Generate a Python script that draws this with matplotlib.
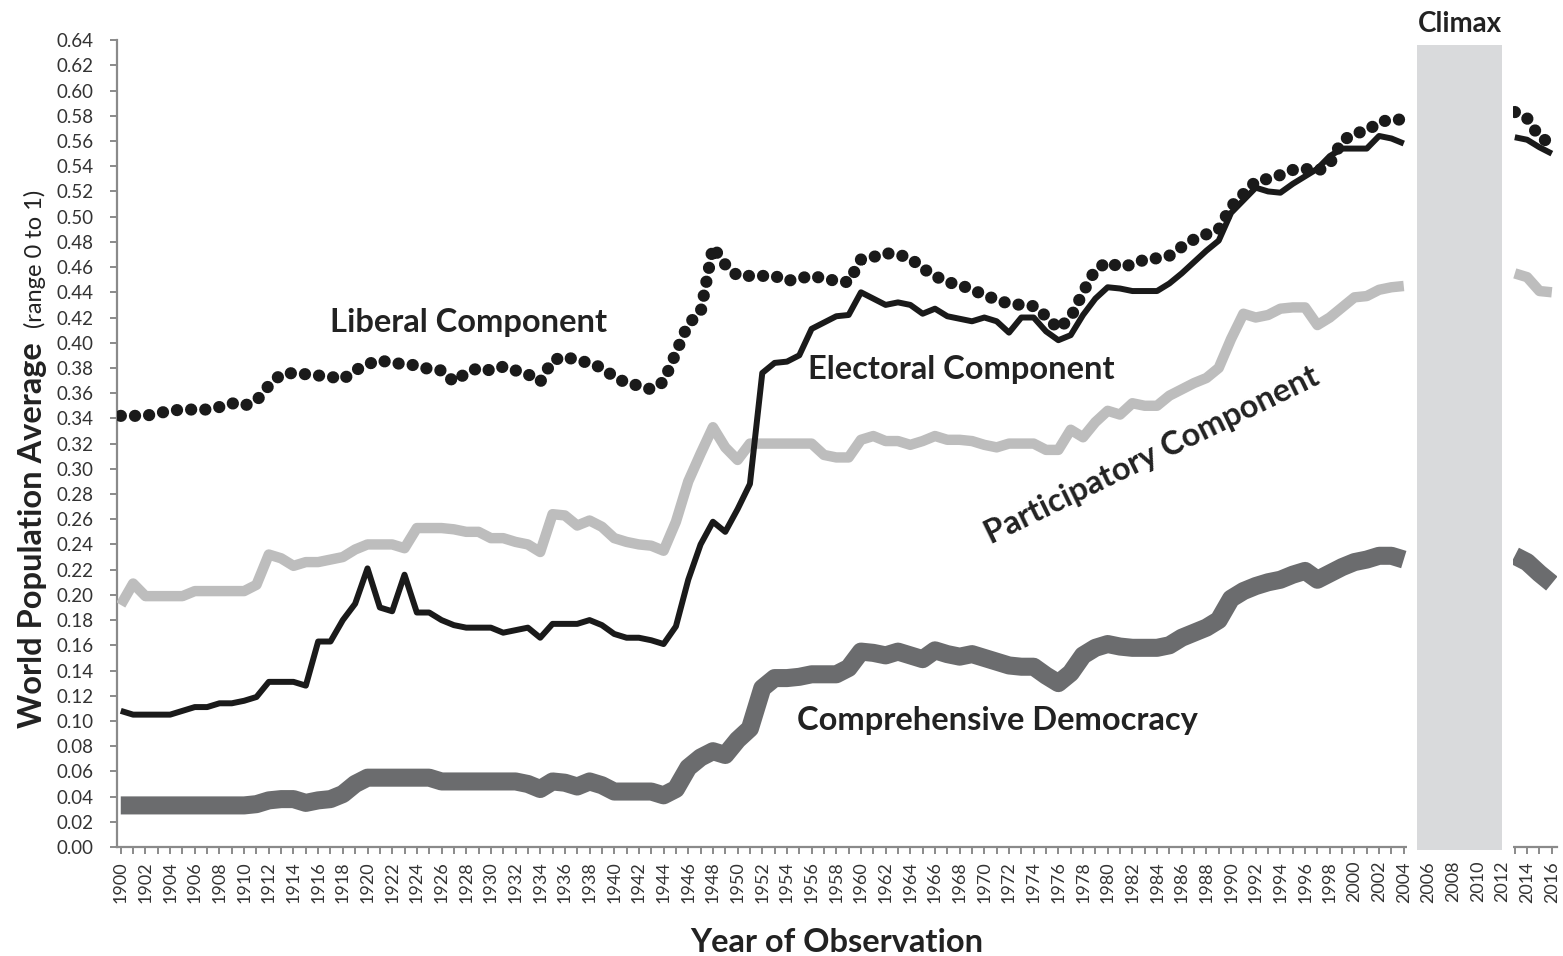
import numpy as np
import matplotlib
matplotlib.use("Agg")
import matplotlib.pyplot as plt
from matplotlib.patches import Rectangle
import matplotlib.transforms as mtransforms

plt.rcParams['font.family'] = ['Lato', 'DejaVu Sans']

# years shown on the chart (2005-2012 hidden behind the "Climax" band)
years = list(range(1900, 2005)) + [2013, 2014, 2015, 2016]

liberal = [
    0.342, 0.342, 0.342, 0.344, 0.346, 0.347, 0.347, 0.347, 0.349, 0.352,
    0.350, 0.354, 0.366, 0.375, 0.376, 0.375, 0.374, 0.373, 0.371, 0.378,
    0.383, 0.386, 0.384, 0.383, 0.382, 0.379, 0.378, 0.369, 0.376, 0.380,
    0.378, 0.381, 0.378, 0.375, 0.369, 0.386, 0.389, 0.386, 0.384, 0.380,
    0.373, 0.368, 0.366, 0.363, 0.369, 0.392, 0.415, 0.424, 0.476, 0.462,
    0.453, 0.453, 0.453, 0.453, 0.449, 0.451, 0.453, 0.451, 0.449, 0.448,
    0.466, 0.468, 0.471, 0.470, 0.467, 0.459, 0.453, 0.448, 0.446, 0.442,
    0.438, 0.434, 0.431, 0.430, 0.429, 0.421, 0.411, 0.420, 0.440, 0.458,
    0.464, 0.460, 0.462, 0.466, 0.467, 0.469, 0.476, 0.482, 0.486, 0.490,
    0.508, 0.518, 0.528, 0.530, 0.533, 0.537, 0.538, 0.536, 0.542, 0.560,
    0.566, 0.568, 0.575, 0.577, 0.577,
    0.583, 0.578, 0.563, 0.558]

electoral = [
    0.108, 0.105, 0.105, 0.105, 0.105, 0.108, 0.111, 0.111, 0.114, 0.114,
    0.116, 0.119, 0.131, 0.131, 0.131, 0.128, 0.163, 0.163, 0.180, 0.193,
    0.221, 0.190, 0.187, 0.216, 0.186, 0.186, 0.180, 0.176, 0.174, 0.174,
    0.174, 0.170, 0.172, 0.174, 0.166, 0.177, 0.177, 0.177, 0.180, 0.176,
    0.169, 0.166, 0.166, 0.164, 0.161, 0.175, 0.212, 0.240, 0.258, 0.250,
    0.268, 0.288, 0.376, 0.384, 0.385, 0.390, 0.411, 0.416, 0.421, 0.422,
    0.440, 0.435, 0.430, 0.432, 0.430, 0.423, 0.427, 0.421, 0.419, 0.417,
    0.420, 0.417, 0.408, 0.420, 0.420, 0.409, 0.402, 0.406, 0.422, 0.435,
    0.444, 0.443, 0.441, 0.441, 0.441, 0.447, 0.455, 0.464, 0.473, 0.481,
    0.503, 0.513, 0.523, 0.520, 0.519, 0.526, 0.532, 0.538, 0.548, 0.554,
    0.554, 0.554, 0.564, 0.562, 0.558,
    0.563, 0.561, 0.555, 0.550]

participatory = [
    0.192, 0.209, 0.199, 0.199, 0.199, 0.199, 0.203, 0.203, 0.203, 0.203,
    0.203, 0.208, 0.232, 0.229, 0.223, 0.226, 0.226, 0.228, 0.230, 0.236,
    0.240, 0.240, 0.240, 0.237, 0.253, 0.253, 0.253, 0.252, 0.250, 0.250,
    0.245, 0.245, 0.242, 0.240, 0.234, 0.264, 0.263, 0.255, 0.259, 0.254,
    0.245, 0.242, 0.240, 0.239, 0.235, 0.258, 0.290, 0.312, 0.333, 0.317,
    0.307, 0.320, 0.320, 0.320, 0.320, 0.320, 0.320, 0.311, 0.309, 0.309,
    0.323, 0.326, 0.322, 0.322, 0.319, 0.322, 0.326, 0.323, 0.323, 0.322,
    0.319, 0.317, 0.320, 0.320, 0.320, 0.315, 0.315, 0.331, 0.325, 0.337,
    0.346, 0.343, 0.352, 0.350, 0.350, 0.358, 0.363, 0.368, 0.372, 0.380,
    0.403, 0.423, 0.420, 0.422, 0.427, 0.428, 0.428, 0.414, 0.420, 0.428,
    0.436, 0.437, 0.442, 0.444, 0.445,
    0.455, 0.452, 0.441, 0.440]

comprehensive = [
    0.033, 0.033, 0.033, 0.033, 0.033, 0.033, 0.033, 0.033, 0.033, 0.033,
    0.033, 0.034, 0.037, 0.038, 0.038, 0.035, 0.037, 0.038, 0.042, 0.050,
    0.055, 0.055, 0.055, 0.055, 0.055, 0.055, 0.052, 0.052, 0.052, 0.052,
    0.052, 0.052, 0.052, 0.050, 0.046, 0.052, 0.051, 0.048, 0.052, 0.049,
    0.044, 0.044, 0.044, 0.044, 0.041, 0.046, 0.063, 0.071, 0.076, 0.073,
    0.085, 0.094, 0.126, 0.134, 0.134, 0.135, 0.137, 0.137, 0.137, 0.142,
    0.155, 0.154, 0.152, 0.155, 0.152, 0.149, 0.156, 0.153, 0.151, 0.153,
    0.150, 0.147, 0.144, 0.143, 0.143, 0.136, 0.130, 0.138, 0.152, 0.158,
    0.161, 0.159, 0.158, 0.158, 0.158, 0.160, 0.166, 0.170, 0.174, 0.180,
    0.197, 0.203, 0.207, 0.210, 0.212, 0.216, 0.219, 0.212, 0.217, 0.222,
    0.226, 0.228, 0.231, 0.231, 0.228,
    0.231, 0.226, 0.217, 0.209]

climax_start, climax_end = 2005.1, 2012.0


def split(vals):
    # two pieces: up to 2004, and 2013 onwards
    n = years.index(2013)
    return (years[:n], vals[:n]), (years[n:], vals[n:])


fig = plt.figure(figsize=(15.63, 9.56), dpi=100)
ax = fig.add_axes([0.0749, 0.114, 0.9211, 0.844])

for part in split(comprehensive):
    ax.plot(*part, color='#6b6c6e', lw=13, solid_capstyle='butt',
            solid_joinstyle='round', zorder=2)
for part in split(participatory):
    ax.plot(*part, color='#bdbdbd', lw=7.5, solid_capstyle='butt',
            solid_joinstyle='round', zorder=3)
for part in split(electoral):
    ax.plot(*part, color='#1a1a1a', lw=4.3, solid_capstyle='butt',
            solid_joinstyle='round', zorder=4)
for part in split(liberal):
    ax.plot(*part, color='#1a1a1a', lw=8.8, linestyle=(0, (0.01, 1.15)),
            dash_capstyle='round', zorder=5)

ax.set_xlim(1899.7, 2016.4)
ax.set_ylim(0, 0.64)

# white gap around the band hides the axis line, then the grey band itself
trans = mtransforms.blended_transform_factory(ax.transData, ax.transAxes)
ax.add_patch(Rectangle((2004.25, -0.012), 2012.85 - 2004.25, 1.02,
                       transform=trans, facecolor='white', edgecolor='none',
                       clip_on=False, zorder=6))
ax.add_patch(Rectangle((climax_start, -0.004), climax_end - climax_start, 0.998,
                       transform=trans, facecolor='#d9dadc', edgecolor='none',
                       clip_on=False, zorder=7))
ax.text((climax_start + climax_end) / 2, 1.02, 'Climax', transform=trans,
        ha='center', va='center', fontsize=20, fontweight='bold', color='#222222')

# axes styling
for s in ['top', 'right']:
    ax.spines[s].set_visible(False)
for s in ['left', 'bottom']:
    ax.spines[s].set_color('#8a8a8a')
    ax.spines[s].set_linewidth(1.6)

ax.set_yticks(np.arange(0, 0.6401, 0.02))
ax.set_yticklabels(['%.2f' % v for v in np.arange(0, 0.6401, 0.02)])
ax.set_xticks(range(1900, 2017, 2))
ax.set_xticklabels([str(y) for y in range(1900, 2017, 2)], rotation=90)
ax.set_xticks(range(1901, 2017, 2), minor=True)
ax.tick_params(axis='both', which='both', color='#8a8a8a', width=1.4,
               length=5, labelcolor='#333333')
ax.tick_params(axis='y', labelsize=13.5, pad=12)
ax.tick_params(axis='x', labelsize=13, pad=5)

ax.set_xlabel('Year of Observation', fontsize=23.5, fontweight='bold',
              color='#222222', labelpad=18)

# y label in two styles
fig.text(42 / 1563, 1 - 728 / 956, 'World Population Average', rotation=90,
         rotation_mode='anchor', ha='left', va='baseline', fontsize=23.5,
         fontweight='bold', color='#222222')
fig.text(42 / 1563, 1 - 328 / 956, '(range 0 to 1)', rotation=90,
         rotation_mode='anchor', ha='left', va='baseline', fontsize=17,
         color='#222222')

# series labels
lab = dict(fontsize=23.5, fontweight='bold', color='#222222')
ax.text(1916.95, 0.416, 'Liberal Component', ha='left', va='center', **lab)
ax.text(1955.7, 0.379, 'Electoral Component', ha='left', va='center', **lab)
ax.text(1954.8, 0.1007, 'Comprehensive Democracy', ha='left', va='center', **lab)
ax.text(1983.6, 0.311, 'Participatory Component', ha='center', va='center',
        rotation=26, rotation_mode='anchor', **lab)

fig.savefig('out.png', dpi=100)
